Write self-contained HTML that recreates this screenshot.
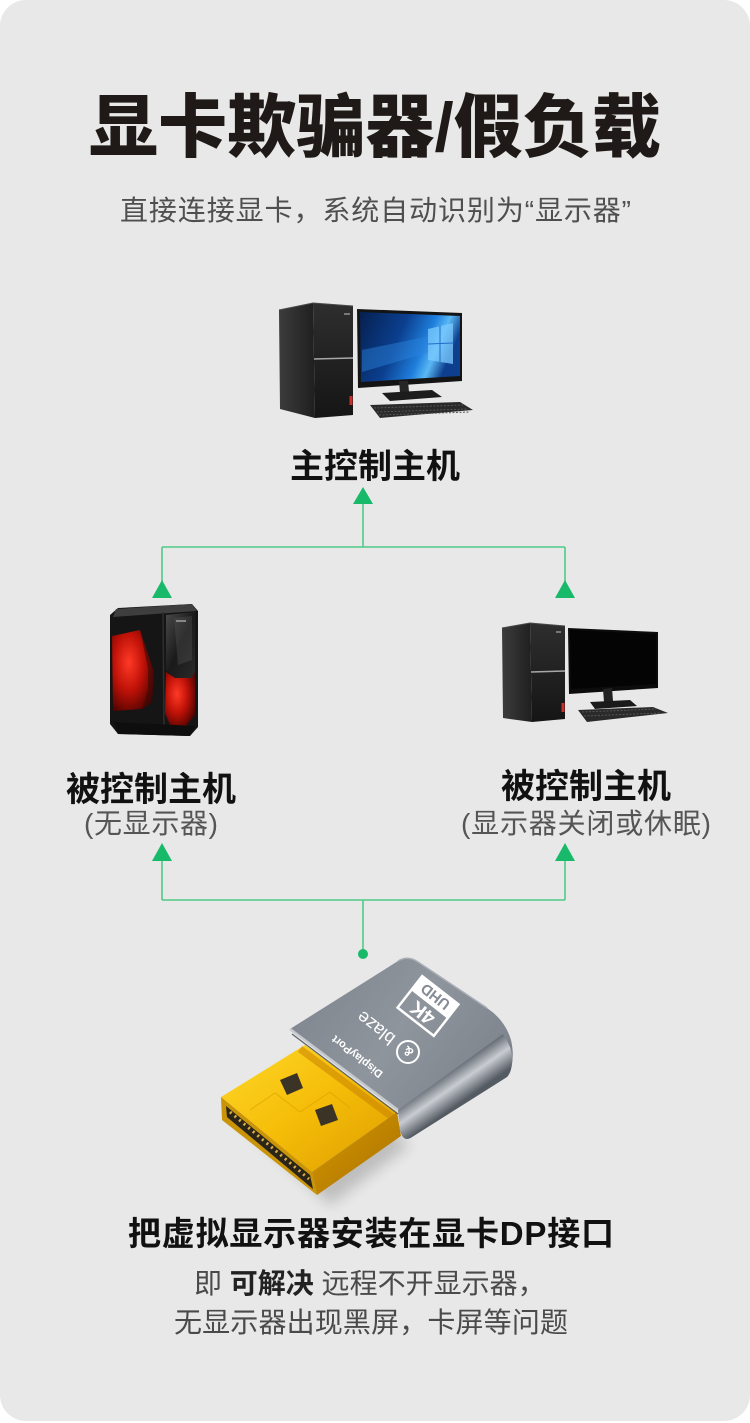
<!DOCTYPE html>
<html><head><meta charset="utf-8">
<style>
html,body{margin:0;padding:0;background:#fff;}
body{width:750px;height:1423px;overflow:hidden;}
svg{display:block;}
text{font-family:"Liberation Sans","Noto Sans CJK SC",sans-serif;}
</style></head><body>
<svg width="750" height="1423" viewBox="0 0 750 1423" xmlns="http://www.w3.org/2000/svg">
<defs>
  <linearGradient id="tfront" x1="0" y1="0" x2="0" y2="1">
    <stop offset="0" stop-color="#2e2e2e"/><stop offset="1" stop-color="#151515"/>
  </linearGradient>
  <linearGradient id="tside" x1="0" y1="0" x2="1" y2="0">
    <stop offset="0" stop-color="#3c3c3c"/><stop offset="1" stop-color="#1f1f1f"/>
  </linearGradient>
  <linearGradient id="win" x1="0" y1="0" x2="1" y2="0.3">
    <stop offset="0" stop-color="#06204f"/><stop offset="0.45" stop-color="#0b3f8f"/>
    <stop offset="0.72" stop-color="#1f7fdc"/><stop offset="0.85" stop-color="#5ab8f5"/>
    <stop offset="1" stop-color="#0d3f8e"/>
  </linearGradient>
  <radialGradient id="red" cx="0.4" cy="0.4" r="0.7">
    <stop offset="0" stop-color="#ff3a26"/><stop offset="0.5" stop-color="#c01208"/>
    <stop offset="1" stop-color="#4a0200"/>
  </radialGradient>
  <linearGradient id="gloss" x1="0" y1="0" x2="1" y2="1">
    <stop offset="0" stop-color="#4a4a4a"/><stop offset="0.5" stop-color="#1a1a1a"/>
    <stop offset="1" stop-color="#2a2a2a"/>
  </linearGradient>
  <linearGradient id="gold" x1="0" y1="0" x2="1" y2="1">
    <stop offset="0" stop-color="#ffd82a"/><stop offset="0.5" stop-color="#f5bd08"/>
    <stop offset="1" stop-color="#dc9c00"/>
  </linearGradient>
  <linearGradient id="goldside" x1="0" y1="0" x2="1" y2="1">
    <stop offset="0" stop-color="#d69a00"/><stop offset="1" stop-color="#a86e00"/>
  </linearGradient>
  <linearGradient id="mtop" x1="290" y1="960" x2="500" y2="1110" gradientUnits="userSpaceOnUse">
    <stop offset="0" stop-color="#7d838c"/><stop offset="0.5" stop-color="#8f959d"/>
    <stop offset="1" stop-color="#7a8089"/>
  </linearGradient>
  <linearGradient id="mside" x1="448" y1="1073" x2="466" y2="1099" gradientUnits="userSpaceOnUse">
    <stop offset="0" stop-color="#6a7079"/><stop offset="0.45" stop-color="#c9cdd2"/>
    <stop offset="1" stop-color="#555b63"/>
  </linearGradient>
  <filter id="blur" x="-20%" y="-20%" width="140%" height="140%"><feGaussianBlur stdDeviation="7"/></filter>
</defs>

<rect x="0" y="0" width="750" height="1421" rx="26" ry="26" fill="#e8e8e8"/>

<!-- Title -->
<text x="89" y="151" font-size="69" font-weight="900" fill="#1f1a17" textLength="572">显卡欺骗器/假负载</text>
<text x="120" y="220" font-size="28" fill="#4f4f4f" textLength="511">直接连接显卡，系统自动识别为“显示器”</text>

<!-- Top computer -->
<polygon points="279,310 313,303 315,418 280,409" fill="url(#tside)"/>
<polygon points="313,303 353,306 353,415 315,418" fill="url(#tfront)"/>
<polyline points="279,310 313,303 353,306" fill="none" stroke="#4a4a4a" stroke-width="1"/>
<line x1="314" y1="359" x2="353" y2="358" stroke="#a8a8a8" stroke-width="1.5"/>
<rect x="344" y="313" width="6" height="2" fill="#777"/>
<rect x="349.5" y="396" width="3" height="9" fill="#c8302a"/>
<polygon points="357,309 462,313 462,381 358,388" fill="#141414"/>
<polygon points="360,312 460,316 460,376 361,382" fill="url(#win)"/>
<polygon points="362,350 430,336 430,352 362,372" fill="#2d86dd" opacity="0.45"/>
<polygon points="428,329 453,323 453,364 428,360" fill="#7ccbff" opacity="0.75"/>
<line x1="440" y1="326" x2="440" y2="362" stroke="#1e6ecb" stroke-width="1"/>
<line x1="428" y1="344" x2="453" y2="343" stroke="#1e6ecb" stroke-width="1"/>
<polygon points="399,381 408,381 409,392 400,393" fill="#262626"/>
<polygon points="382,393 432,390 442,397 390,401" fill="#1c1c1c"/>
<polygon points="370,405 460,402 473,410 380,418" fill="#2a2a2a"/>
<line x1="374" y1="408" x2="463" y2="405" stroke="#555" stroke-width="1" stroke-dasharray="2,1.5"/>
<line x1="377" y1="412" x2="467" y2="409" stroke="#555" stroke-width="1" stroke-dasharray="2,1.5"/>
<line x1="379" y1="415" x2="470" y2="412" stroke="#555" stroke-width="1" stroke-dasharray="2,1.5"/>

<text x="290" y="478" font-size="34" font-weight="700" fill="#111" textLength="170">主控制主机</text>

<!-- Connectors top -->
<g stroke="#4fc986" stroke-width="1.6" fill="none">
  <line x1="363" y1="503" x2="363" y2="547"/>
  <line x1="162" y1="547" x2="565" y2="547"/>
  <line x1="162" y1="547" x2="162" y2="584"/>
  <line x1="565" y1="547" x2="565" y2="584"/>
</g>
<g fill="#19b96a">
  <polygon points="363,487 353,504 373,504"/>
  <polygon points="162,580 152,598 172,598"/>
  <polygon points="565,580 555,598 575,598"/>
</g>

<!-- Left gaming tower -->
<polygon points="110,615 118,608 192,604 198,611 198,727 190,736 118,734 110,724" fill="#151515"/>
<polygon points="116,609 192,604 197,611 113,617" fill="#3e3e3e"/>
<line x1="163" y1="612" x2="164" y2="730" stroke="#2e2e2e" stroke-width="1.5"/>
<polygon points="112,636 140,630 154,672 152,702 142,709 113,711" fill="url(#red)"/>
<polygon points="140,630 154,672 152,702 142,709 148,690 148,668" fill="#3a0a06" opacity="0.6"/>
<polygon points="166,615 195,612 195,672 192,678 175,678 166,670" fill="url(#gloss)"/>
<polygon points="174,618 192,616 192,660 178,665" fill="#5a5a5a" opacity="0.35"/>
<rect x="176" y="620" width="10" height="2" fill="#888"/>
<polygon points="166,672 175,678 192,678 195,672 195,715 185,727 170,725 165,713" fill="url(#red)"/>
<polygon points="114,722 195,726 190,736 118,734" fill="#0e0e0e"/>

<text x="66" y="801" font-size="34" font-weight="700" fill="#111" textLength="170">被控制主机</text>
<text x="84" y="833" font-size="28" fill="#555" textLength="134">(无显示器)</text>

<!-- Right computer -->
<polygon points="502,628 530,623 532,722 503,718" fill="url(#tside)"/>
<polygon points="530,623 565,626 565,719 532,722" fill="url(#tfront)"/>
<polyline points="502,628 530,623 565,626" fill="none" stroke="#4a4a4a" stroke-width="1"/>
<line x1="531" y1="672" x2="565" y2="671" stroke="#a8a8a8" stroke-width="1.5"/>
<rect x="556" y="631" width="5" height="2" fill="#777"/>
<rect x="561.5" y="703" width="3" height="9" fill="#c8302a"/>
<polygon points="568,628 658,632 658,688 569,694" fill="#0c0c0c"/>
<polygon points="570,630 656,634 656,684 571,689" fill="#040404"/>
<polygon points="603,689 612,688 613,701 604,702" fill="#222"/>
<polygon points="590,702 630,700 637,706 595,709" fill="#1a1a1a"/>
<polygon points="578,710 653,707 668,713 587,722" fill="#2a2a2a"/>
<line x1="582" y1="712" x2="656" y2="709" stroke="#555" stroke-width="1" stroke-dasharray="2,1.5"/>
<line x1="584" y1="716" x2="661" y2="713" stroke="#555" stroke-width="1" stroke-dasharray="2,1.5"/>

<text x="501" y="798" font-size="34" font-weight="700" fill="#111" textLength="170">被控制主机</text>
<text x="461" y="833" font-size="28" fill="#555" textLength="250">(显示器关闭或休眠)</text>

<!-- Connectors bottom -->
<g stroke="#4fc986" stroke-width="1.6" fill="none">
  <line x1="162" y1="858" x2="162" y2="900"/>
  <line x1="565" y1="858" x2="565" y2="900"/>
  <line x1="162" y1="900" x2="565" y2="900"/>
  <line x1="363" y1="900" x2="363" y2="954"/>
</g>
<g fill="#19b96a">
  <polygon points="162,843 152,861 172,861"/>
  <polygon points="565,843 555,861 575,861"/>
  <circle cx="363" cy="954" r="5"/>
</g>

<!-- Dongle -->
<path d="M230,1110 L300,1060 L410,1145 L330,1205 Z" fill="#000" opacity="0.18" filter="url(#blur)"/>
<polygon points="221,1097 305,1045 397,1112 312,1172" fill="url(#gold)"/>
<polygon points="312,1172 397,1112 401,1136 317,1195" fill="url(#goldside)"/>
<polygon points="221,1097 312,1172 317,1195 222,1120" fill="#c99408"/>
<polygon points="226,1106 310,1175 313,1189 227,1117" fill="#2b2418"/>
<line x1="230" y1="1112" x2="309" y2="1179" stroke="#d9b043" stroke-width="3" stroke-dasharray="2,4"/>
<line x1="300" y1="1049" x2="392" y2="1117" stroke="#c98300" stroke-width="7" opacity="0.55"/>
<polyline points="250,1110 275,1093 300,1112 330,1092 350,1108" fill="none" stroke="#dca300" stroke-width="1" opacity="0.7"/>
<polygon points="280,1080 297,1073 303,1088 287,1095" fill="#3b3326"/>
<polygon points="315,1110 332,1104 338,1120 321,1126" fill="#3b3326"/>
<path d="M290,1029 L398,961 Q408,955 418,962 L487,1008 Q505,1020 511,1040 Q516,1062 507,1077 L412,1137 Q403,1143 400,1130 L398,1110 Z" fill="url(#mtop)"/>
<path d="M398,1110 L503,1034 Q514,1050 512,1064 Q511,1073 507,1077 L412,1137 Q403,1143 400,1130 Z" fill="url(#mside)"/>
<line x1="290" y1="1029" x2="398" y2="1110" stroke="#c6cacf" stroke-width="2.5"/>
<line x1="292" y1="1034" x2="398" y2="1114" stroke="#5d626a" stroke-width="1.2"/>
<path d="M398,961 Q408,955 418,962 L487,1008" fill="none" stroke="#a9aeb5" stroke-width="1.5"/>
<g transform="translate(428,1006) rotate(-142)">
  <rect x="-23" y="-20" width="46" height="40" fill="none" stroke="#fff" stroke-width="2.5"/>
  <rect x="-23" y="2" width="46" height="18" fill="#fff"/>
  <text x="0" y="-2" font-size="20" font-weight="700" fill="#fff" text-anchor="middle">4K</text>
  <text x="0" y="17" font-size="15" font-weight="700" fill="#868c95" text-anchor="middle">UHD</text>
</g>
<g transform="translate(376,1028) rotate(-142)">
  <text x="0" y="6" font-size="18" fill="#fff" text-anchor="middle">blaze</text>
</g>
<circle cx="408" cy="1052" r="11" fill="none" stroke="#fff" stroke-width="2"/>
<g transform="translate(408,1052) rotate(-142)">
  <text x="0" y="5" font-size="13" font-weight="700" fill="#fff" text-anchor="middle">&amp;</text>
</g>
<g transform="translate(357,1057) rotate(-142)">
  <text x="0" y="4" font-size="11" font-weight="700" fill="#fff" text-anchor="middle">DisplayPort</text>
</g>

<!-- Bottom text -->
<text x="128" y="1245" font-size="33" font-weight="700" fill="#111" textLength="486">把虚拟显示器安装在显卡DP接口</text>
<text x="194" y="1293" font-size="28" fill="#4a4a4a">即 <tspan font-weight="700" fill="#222">可解决</tspan> 远程不开显示器，</text>
<text x="174" y="1332" font-size="28" fill="#4a4a4a" textLength="394">无显示器出现黑屏，卡屏等问题</text>
</svg>
</body></html>
